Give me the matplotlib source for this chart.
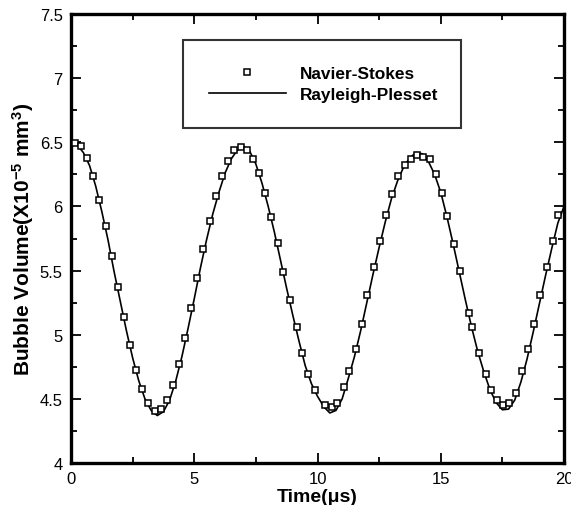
import matplotlib
matplotlib.use("Agg")
import matplotlib.pyplot as plt
from matplotlib.ticker import MultipleLocator, FormatStrFormatter

plt.rcParams['font.family'] = ['Liberation Sans', 'DejaVu Sans']
plt.rcParams['mathtext.default'] = 'regular'

# Navier-Stokes results (squares)
ns_time = [0.16, 0.41, 0.66, 0.91, 1.15, 1.41, 1.65, 1.89, 2.15, 2.41,
           2.65, 2.89, 3.14, 3.41, 3.64, 3.88, 4.13, 4.37, 4.62, 4.87,
           5.10, 5.37, 5.64, 5.88, 6.14, 6.38, 6.62, 6.90, 7.15, 7.40,
           7.62, 7.87, 8.11, 8.38, 8.61, 8.88, 9.16, 9.38, 9.63, 9.90,
           10.30, 10.57, 10.81, 11.06, 11.29, 11.55, 11.79, 12.02, 12.29, 12.54,
           12.78, 13.04, 13.28, 13.55, 13.79, 14.05, 14.29, 14.56, 14.81, 15.05,
           15.27, 15.54, 15.78, 16.16, 16.28, 16.55, 16.82, 17.04, 17.29, 17.54,
           17.78, 18.05, 18.28, 18.53, 18.80, 19.03, 19.30, 19.54, 19.77]
ns_volume = [6.494, 6.473, 6.377, 6.234, 6.053, 5.845, 5.612, 5.374, 5.138, 4.918,
             4.726, 4.573, 4.464, 4.402, 4.418, 4.490, 4.607, 4.775, 4.977, 5.205,
             5.439, 5.672, 5.890, 6.079, 6.240, 6.358, 6.436, 6.462, 6.436, 6.369,
             6.258, 6.105, 5.918, 5.716, 5.491, 5.267, 5.058, 4.855, 4.690, 4.568,
             4.456, 4.433, 4.469, 4.593, 4.718, 4.886, 5.086, 5.306, 5.527, 5.734,
             5.931, 6.100, 6.234, 6.325, 6.372, 6.403, 6.385, 6.369, 6.255, 6.105,
             5.923, 5.711, 5.495, 5.170, 5.060, 4.855, 4.692, 4.568, 4.490, 4.453,
             4.467, 4.542, 4.718, 4.886, 5.086, 5.306, 5.527, 5.734, 5.931]

# Rayleigh-Plesset results (line)
rp_time = [0.00, 0.25, 0.50, 0.75, 1.00, 1.25, 1.50, 1.75, 2.00, 2.25,
           2.50, 2.75, 3.00, 3.25, 3.50, 3.75, 4.00, 4.25, 4.50, 4.75,
           5.00, 5.25, 5.50, 5.75, 6.00, 6.25, 6.50, 6.75, 7.00, 7.25,
           7.50, 7.75, 8.00, 8.25, 8.50, 8.75, 9.00, 9.25, 9.50, 9.75,
           10.00, 10.25, 10.50, 10.75, 11.00, 11.25, 11.50, 11.75, 12.00, 12.25,
           12.50, 12.75, 13.00, 13.25, 13.50, 13.75, 14.00, 14.25, 14.50, 14.75,
           15.00, 15.25, 15.50, 15.75, 16.00, 16.25, 16.50, 16.75, 17.00, 17.25,
           17.50, 17.75, 18.00, 18.25, 18.50, 18.75, 19.00, 19.25, 19.50, 19.75,
           20.00]
rp_volume = [6.50, 6.48, 6.42, 6.32, 6.16, 5.96, 5.74, 5.49, 5.26, 5.03,
             4.82, 4.64, 4.50, 4.41, 4.37, 4.40, 4.49, 4.64, 4.83, 5.05,
             5.28, 5.52, 5.74, 5.94, 6.11, 6.26, 6.37, 6.44, 6.47, 6.43,
             6.33, 6.18, 6.00, 5.80, 5.58, 5.36, 5.15, 4.95, 4.76, 4.62,
             4.52, 4.44, 4.39, 4.41, 4.50, 4.66, 4.83, 5.03, 5.25, 5.47,
             5.68, 5.88, 6.06, 6.20, 6.31, 6.38, 6.42, 6.41, 6.35, 6.25,
             6.11, 5.92, 5.71, 5.49, 5.27, 5.06, 4.87, 4.71, 4.57, 4.47,
             4.415, 4.42, 4.49, 4.63, 4.81, 5.02, 5.24, 5.46, 5.67, 5.87,
             6.00]

fig = plt.figure(figsize=(5.71, 5.06), dpi=100)
ax = fig.add_axes([71/571, 42/506, 493/571, 449/506])

ax.plot(ns_time, ns_volume, linestyle='none', marker='s', markersize=5,
        markerfacecolor='white', markeredgecolor='black', markeredgewidth=1.1,
        label='Navier-Stokes', zorder=3)
ax.plot(rp_time, rp_volume, color='black', linewidth=1.2,
        label='Rayleigh-Plesset', zorder=2)

ax.set_xlim(0, 20)
ax.set_ylim(4, 7.5)
ax.xaxis.set_major_locator(MultipleLocator(5))
ax.xaxis.set_minor_locator(MultipleLocator(2.5))
ax.yaxis.set_major_locator(MultipleLocator(0.5))
ax.yaxis.set_minor_locator(MultipleLocator(0.25))
ax.xaxis.set_major_formatter(FormatStrFormatter('%g'))
ax.yaxis.set_major_formatter(FormatStrFormatter('%g'))

ax.tick_params(which='both', direction='in', top=True, right=True,
               width=1.3, labelsize=12)
ax.tick_params(which='major', length=7, pad=6)
ax.tick_params(which='minor', length=4.5)
for s in ax.spines.values():
    s.set_linewidth(2.4)

ax.set_xlabel('Time(μs)', fontsize=14, fontweight='bold', labelpad=1)
ax.set_ylabel(r'Bubble Volume(X10$^{-5}$ mm$^{3}$)', fontsize=15,
              fontweight='bold', labelpad=3)

leg = ax.legend(loc='upper left', bbox_to_anchor=(0.227, 0.942, 0.564, 0),
                mode='expand', borderaxespad=0, frameon=True, fancybox=False,
                borderpad=1.5, handlelength=4.5, handletextpad=0.8,
                labelspacing=0.35, prop={'weight': 'bold', 'size': 12.4})
leg.get_frame().set_edgecolor('black')
leg.get_frame().set_linewidth(1.5)
leg.legend_handles[0].set_markersize(4)

fig.savefig('out.png', dpi=100)
